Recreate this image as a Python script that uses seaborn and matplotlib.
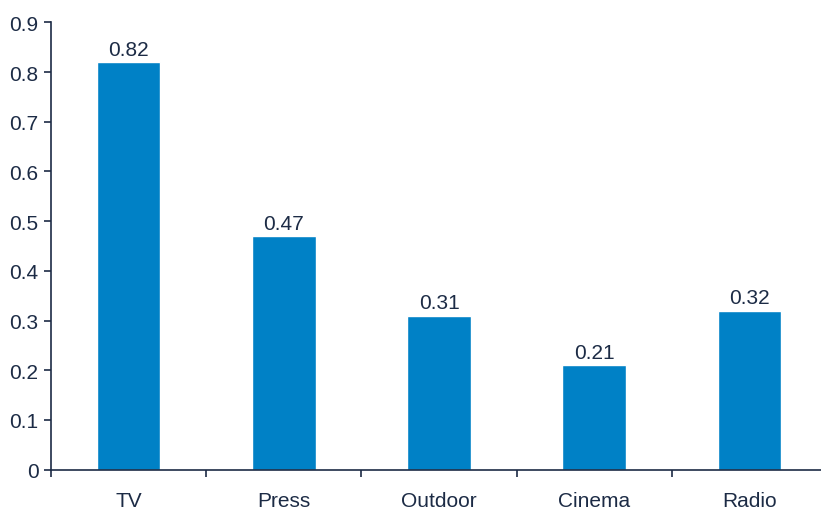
import matplotlib
matplotlib.use("Agg")
import matplotlib.pyplot as plt
from matplotlib.ticker import FixedLocator
import seaborn as sns
import pandas as pd

categories = ["TV", "Press", "Outdoor", "Cinema", "Radio"]
values = [0.82, 0.47, 0.31, 0.21, 0.32]
y_ticks = [0, 0.1, 0.2, 0.3, 0.4, 0.5, 0.6, 0.7, 0.8, 0.9]
y_tick_labels = ["0", "0.1", "0.2", "0.3", "0.4", "0.5", "0.6", "0.7", "0.8", "0.9"]

sns.set_style("white")
plt.rcParams["font.family"] = ["Liberation Sans", "DejaVu Sans"]

ink = "#1c2b45"
bar_color = "#0081c6"

df = pd.DataFrame({"medium": categories, "value": values})

fig = plt.figure(figsize=(8.21, 5.10), dpi=100)
ax = fig.add_axes([51 / 821, 39.3 / 510, 776 / 821, 447.4 / 510])

sns.barplot(data=df, x="medium", y="value", color=bar_color, width=0.41,
            saturation=1, ax=ax)

ax.set_ylim(0, 0.9)
ax.set_xlim(-0.5, len(categories) - 0.5)
ax.yaxis.set_major_locator(FixedLocator(y_ticks))
ax.set_yticklabels(y_tick_labels)

ax.xaxis.set_minor_locator(FixedLocator([i - 0.5 for i in range(len(categories) + 1)]))
ax.tick_params(axis="x", which="major", bottom=False, length=0, pad=15,
               labelsize=15, labelcolor=ink)
ax.tick_params(axis="x", which="minor", bottom=True, length=5, width=1.2,
               color=ink, direction="out")
ax.tick_params(axis="y", left=True, length=5, width=1.2, color=ink, direction="out",
               labelsize=15, labelcolor=ink, pad=4)

ax.set_xlabel("")
ax.set_ylabel("")

for side in ["top", "right"]:
    ax.spines[side].set_visible(False)
for side in ["left", "bottom"]:
    ax.spines[side].set_color(ink)
    ax.spines[side].set_linewidth(1.2)

for container in ax.containers:
    ax.bar_label(container, labels=[f"{v:.2f}" for v in values], padding=2.5,
                 fontsize=15, color=ink)

fig.savefig("out.png", dpi=100)
